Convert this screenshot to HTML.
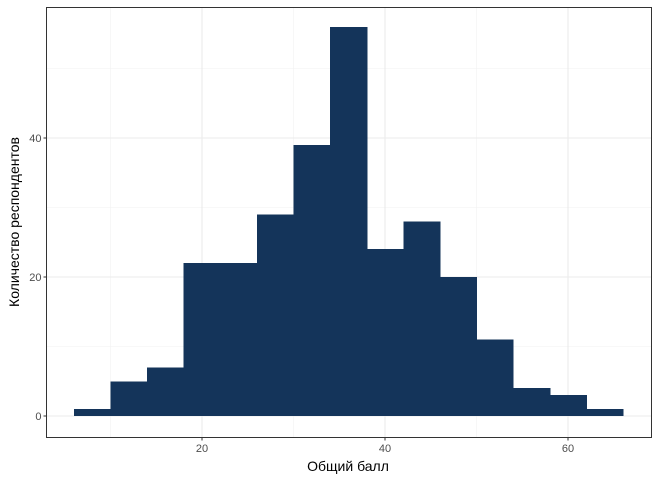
<!DOCTYPE html>
<html><head><meta charset="utf-8"><style>
body{margin:0;background:#fff;font-family:"Liberation Sans",sans-serif}
</style></head><body>
<svg id="chart" width="659" height="480" xmlns="http://www.w3.org/2000/svg">
<g id="grid"></g>
<g id="bars" shape-rendering="crispEdges"></g>
<rect x="46.5" y="7.5" width="605" height="430" fill="none" stroke="#333" stroke-width="1"/>
<g id="axes"></g>
<text x="348" y="471" font-size="14" text-anchor="middle" fill="#000">Общий балл</text>
<text transform="translate(19,222) rotate(-90)" font-size="14" text-anchor="middle" fill="#000">Количество респондентов</text>
</svg>
<script>
const binStarts=[6,10,14,18,22,26,30,34,38,42,46,50,54,58,62];
const counts=[1,5,7,22,22,29,39,56,24,28,20,11,4,3,1];
const binWidth=4;
const xTicks=[20,40,60];
const yTicks=[0,20,40];
const xMinor=[10,30,50];
const yMinor=[10,30,50];
const NS="http://www.w3.org/2000/svg";
const X=v=>19+v*9.15;
const Y=v=>416-v*6.95;
const L=46.5,R=651.5,T=7.5,B=437.5;
function mk(tag,attrs,parent){const e=document.createElementNS(NS,tag);for(const k in attrs)e.setAttribute(k,attrs[k]);parent.appendChild(e);return e;}
const grid=document.getElementById('grid'),bars=document.getElementById('bars'),axes=document.getElementById('axes');
xMinor.forEach(v=>{const l=mk('line',{x1:X(v),x2:X(v),y1:T,y2:B,stroke:'#f2f2f2','stroke-width':0.6},grid);});
yMinor.forEach(v=>{const l=mk('line',{x1:L,x2:R,y1:Y(v),y2:Y(v),stroke:'#f2f2f2','stroke-width':0.6},grid);});
xTicks.forEach(v=>{const l=mk('line',{x1:X(v),x2:X(v),y1:T,y2:B,stroke:'#ebebeb','stroke-width':1.1},grid);
 const t=mk('line',{x1:X(v),x2:X(v),y1:B,y2:B+3,stroke:'#333'},axes);
 const tx=mk('text',{x:X(v),y:452,'font-size':11,'text-anchor':'middle',fill:'#4d4d4d'},axes);tx.textContent=v;});
yTicks.forEach(v=>{const l=mk('line',{x1:L,x2:R,y1:Y(v),y2:Y(v),stroke:'#ebebeb','stroke-width':1.1},grid);
 const t=mk('line',{x1:L-3,x2:L,y1:Y(v),y2:Y(v),stroke:'#333'},axes);
 const tx=mk('text',{x:L-5,y:Y(v)+4,'font-size':11,'text-anchor':'end',fill:'#4d4d4d'},axes);tx.textContent=v;});
binStarts.forEach((s,i)=>{const r=mk('rect',{x:X(s),y:Y(counts[i]),width:X(s+binWidth)-X(s)+0.6,height:Y(0)-Y(counts[i]),fill:'#14345a'},bars);});
</script>
</body></html>
